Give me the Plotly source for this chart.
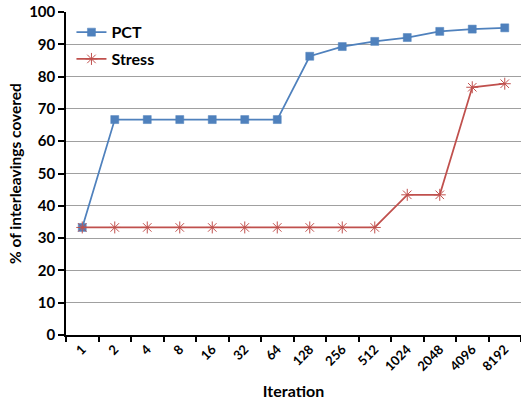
import plotly.graph_objects as go

iterations = ["1", "2", "4", "8", "16", "32", "64", "128", "256", "512", "1024", "2048", "4096", "8192"]
pct = [33.3, 66.7, 66.7, 66.7, 66.7, 66.7, 66.7, 86.3, 89.3, 90.9, 92.1, 94.0, 94.7, 95.1]
stress = [33.3, 33.3, 33.3, 33.3, 33.3, 33.3, 33.3, 33.3, 33.3, 33.3, 43.4, 43.4, 76.7, 77.8]

FONT = "Lato"
fig = go.Figure()
fig.add_trace(go.Scatter(
    x=iterations, y=pct, name="PCT", mode="lines+markers", legendgroup="a",
    line=dict(color="#4F81BD", width=1.75),
    marker=dict(symbol="square", size=8, color="#4F81BD", line=dict(color="#4F81BD", width=0.5)),
))
fig.add_trace(go.Scatter(
    x=iterations, y=stress, name="Stress", mode="lines+markers", legendgroup="b",
    line=dict(color="#C0504D", width=1.75),
    marker=dict(symbol="asterisk-open", size=10, color="#C0504D", line=dict(color="#C0504D", width=1)),
))

fig.update_layout(
    width=521, height=400,
    margin=dict(l=66, r=0, t=12, b=65, autoexpand=False),
    paper_bgcolor="white", plot_bgcolor="white",
    font=dict(family=FONT, color="black", size=13, weight="bold"),
    showlegend=True,
    legend=dict(x=0.012, y=0.99, xanchor="left", yanchor="top", bgcolor="rgba(0,0,0,0)",
                font=dict(size=16, family=FONT, weight="bold"), tracegroupgap=3, itemwidth=30),
    xaxis=dict(
        type="category", range=[-0.5, 13.5], tickson="boundaries", automargin=False,
        showline=True, linecolor="black", linewidth=1.5,
        ticks="outside", ticklen=5, tickcolor="black", tickwidth=1.5,
        tickangle=-45, tickfont=dict(size=13, family=FONT, weight="bold"),
        showgrid=False, zeroline=False,
        title=dict(text="Iteration", font=dict(size=16, family=FONT, weight="bold"), standoff=14),
    ),
    yaxis=dict(
        range=[0, 100], dtick=10, automargin=False,
        showline=True, linecolor="black", linewidth=1.5,
        ticks="outside", ticklen=6, tickcolor="black", tickwidth=1.5,
        tickfont=dict(size=15, family=FONT, weight="bold"),
        showgrid=True, gridcolor="#A0A0A0", gridwidth=1, zeroline=False,
        title=dict(text="% of interleavings covered", font=dict(size=15.5, family=FONT, weight="bold"), standoff=4),
    ),
)

fig.write_html("out.html", post_script="document.body.style.margin='0';",
               config={"displayModeBar": False})
